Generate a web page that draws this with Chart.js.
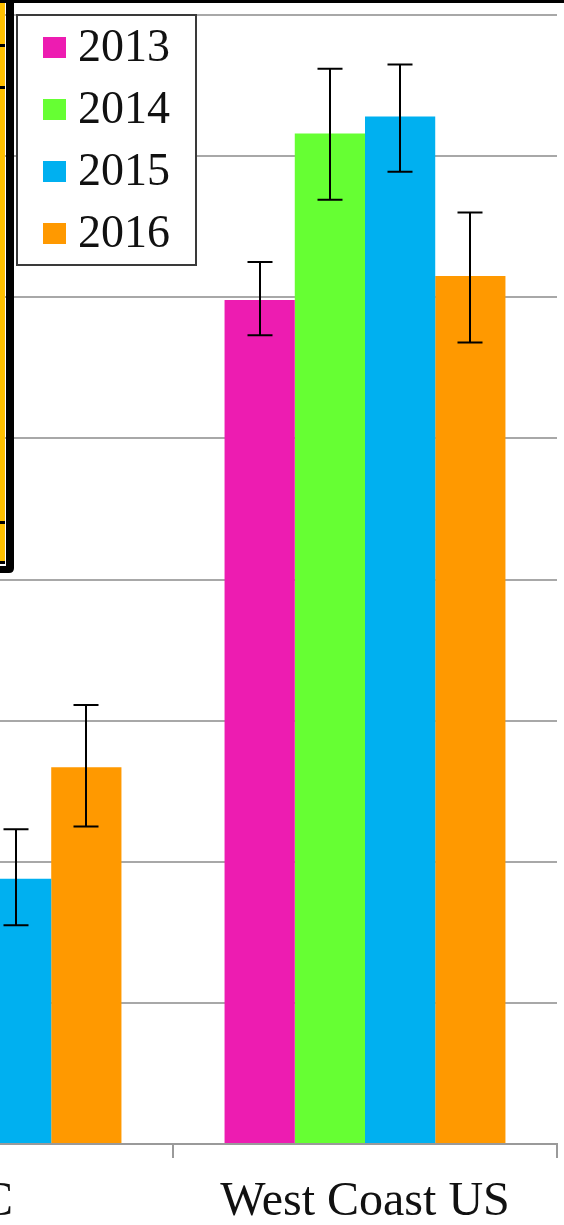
<!DOCTYPE html>
<html>
<head>
<meta charset="utf-8">
<script src="https://cdn.jsdelivr.net/npm/chart.js@4/dist/chart.umd.min.js"></script>
<style>
  html, body { margin: 0; padding: 0; background: #ffffff; overflow: hidden; }
  #wrap { position: relative; width: 564px; height: 1225px; overflow: hidden; }
  #c { position: absolute; left: -211px; top: 0; }
</style>
</head>
<body>
<div id="wrap"><canvas id="c" width="776" height="1225"></canvas></div>
<script>
// ---- data (left group only partly visible) ----
const categories = ["BC", "West Coast US"];
const seriesLabels = ["2013", "2014", "2015", "2016"];
const values2013 = [null, 5.98];
const values2014 = [null, 7.16];
const values2015 = [1.88, 7.28];
const values2016 = [2.67, 6.15];
const errLow2013 = [null, 5.73];
const errHigh2013 = [null, 6.25];
const errLow2014 = [null, 6.69];
const errHigh2014 = [null, 7.62];
const errLow2015 = [1.55, 6.89];
const errHigh2015 = [2.23, 7.65];
const errLow2016 = [2.25, 5.68];
const errHigh2016 = [3.11, 6.60];
const yMin = 0, yMax = 8, yStep = 1;

const colors = ["#ED1CB1", "#66FF33", "#00B0F0", "#FF9900"];
const OFFSET = 211; // canvas is shifted left; page x = canvas x - OFFSET

const errLows = [errLow2013, errLow2014, errLow2015, errLow2016];
const errHighs = [errHigh2013, errHigh2014, errHigh2015, errHigh2016];
const allValues = [values2013, values2014, values2015, values2016];

const errorBarPlugin = {
  id: 'errorBars',
  afterDatasetsDraw(chart) {
    const ctx = chart.ctx;
    const y = chart.scales.y;
    ctx.save();
    ctx.strokeStyle = '#000000';
    ctx.lineWidth = 2;
    chart.data.datasets.forEach((ds, di) => {
      const meta = chart.getDatasetMeta(di);
      meta.data.forEach((bar, i) => {
        const lo = errLows[di][i], hi = errHighs[di][i];
        if (lo == null || hi == null) return;
        const x = Math.round(bar.x);
        const yl = y.getPixelForValue(lo), yh = y.getPixelForValue(hi);
        const cap = 12.5;
        ctx.beginPath();
        ctx.moveTo(x, yh); ctx.lineTo(x, yl);
        ctx.moveTo(x - cap, yh); ctx.lineTo(x + cap, yh);
        ctx.moveTo(x - cap, yl); ctx.lineTo(x + cap, yl);
        ctx.stroke();
      });
    });
    ctx.restore();
  }
};

const overlayPlugin = {
  id: 'overlay',
  afterDraw(chart) {
    const ctx = chart.ctx;
    ctx.save();
    // legend box
    const bx = 17 + OFFSET, by = 15, bw = 179, bh = 250;
    ctx.fillStyle = '#ffffff';
    ctx.fillRect(bx, by, bw, bh);
    ctx.strokeStyle = '#3a3a3a';
    ctx.lineWidth = 2;
    ctx.strokeRect(bx, by, bw, bh);
    const rows = [47, 109, 171, 233];
    ctx.font = '46px "Liberation Serif", "Times New Roman", serif';
    ctx.textBaseline = 'middle';
    ctx.textAlign = 'left';
    chart.data.datasets.forEach((ds, i) => {
      ctx.fillStyle = ds.backgroundColor;
      ctx.fillRect(43 + OFFSET, rows[i] - 10, 23, 21);
      ctx.fillStyle = '#111111';
      ctx.fillText(ds.label, 78 + OFFSET, rows[i] + 2);
    });
    // frame remnants (black border, yellow strip)
    ctx.fillStyle = '#000000';
    ctx.fillRect(0, 0, chart.width, 3);
    ctx.fillStyle = '#FFC000';
    ctx.fillRect(OFFSET + 0, 3, 5, 558);
    ctx.fillStyle = '#000000';
    ctx.fillRect(OFFSET + 6, 0, 8, 566);
    ctx.beginPath();
    ctx.moveTo(OFFSET + 0, 566);
    ctx.lineTo(OFFSET + 14, 566);
    ctx.lineTo(OFFSET + 14, 568);
    ctx.quadraticCurveTo(OFFSET + 14, 573, OFFSET + 9, 573);
    ctx.lineTo(OFFSET + 0, 573);
    ctx.closePath();
    ctx.fill();
    [45, 87, 522, 562].forEach(t => ctx.fillRect(OFFSET + 0, t - 1, 5, 3));
    ctx.restore();
  }
};

new Chart(document.getElementById('c'), {
  type: 'bar',
  data: {
    labels: categories,
    datasets: seriesLabels.map((lab, i) => ({
      label: lab,
      data: allValues[i],
      backgroundColor: colors[i],
      borderWidth: 0,
      categoryPercentage: 0.7315,
      barPercentage: 1.0
    }))
  },
  options: {
    responsive: false,
    animation: false,
    devicePixelRatio: 1,
    layout: { padding: { top: 15, right: 8, left: 0, bottom: 1 } },
    plugins: { legend: { display: false }, tooltip: { enabled: false } },
    scales: {
      x: {
        grid: { display: true, drawOnChartArea: false, drawTicks: true, tickLength: 14, color: '#9a9a9a', lineWidth: 2, offset: true },
        border: { display: true, color: '#9a9a9a', width: 2 },
        ticks: { color: '#111111', padding: 16, font: { family: '"Liberation Serif", "Times New Roman", serif', size: 48 } },
        afterFit(s) { s.height = 80; }
      },
      y: {
        min: yMin, max: yMax,
        ticks: { display: false, stepSize: yStep },
        grid: { color: '#a8a8a8', lineWidth: 2, drawTicks: false },
        border: { display: false },
        afterFit(s) { s.width = 0; }
      }
    }
  },
  plugins: [errorBarPlugin, overlayPlugin]
});
</script>
</body>
</html>
